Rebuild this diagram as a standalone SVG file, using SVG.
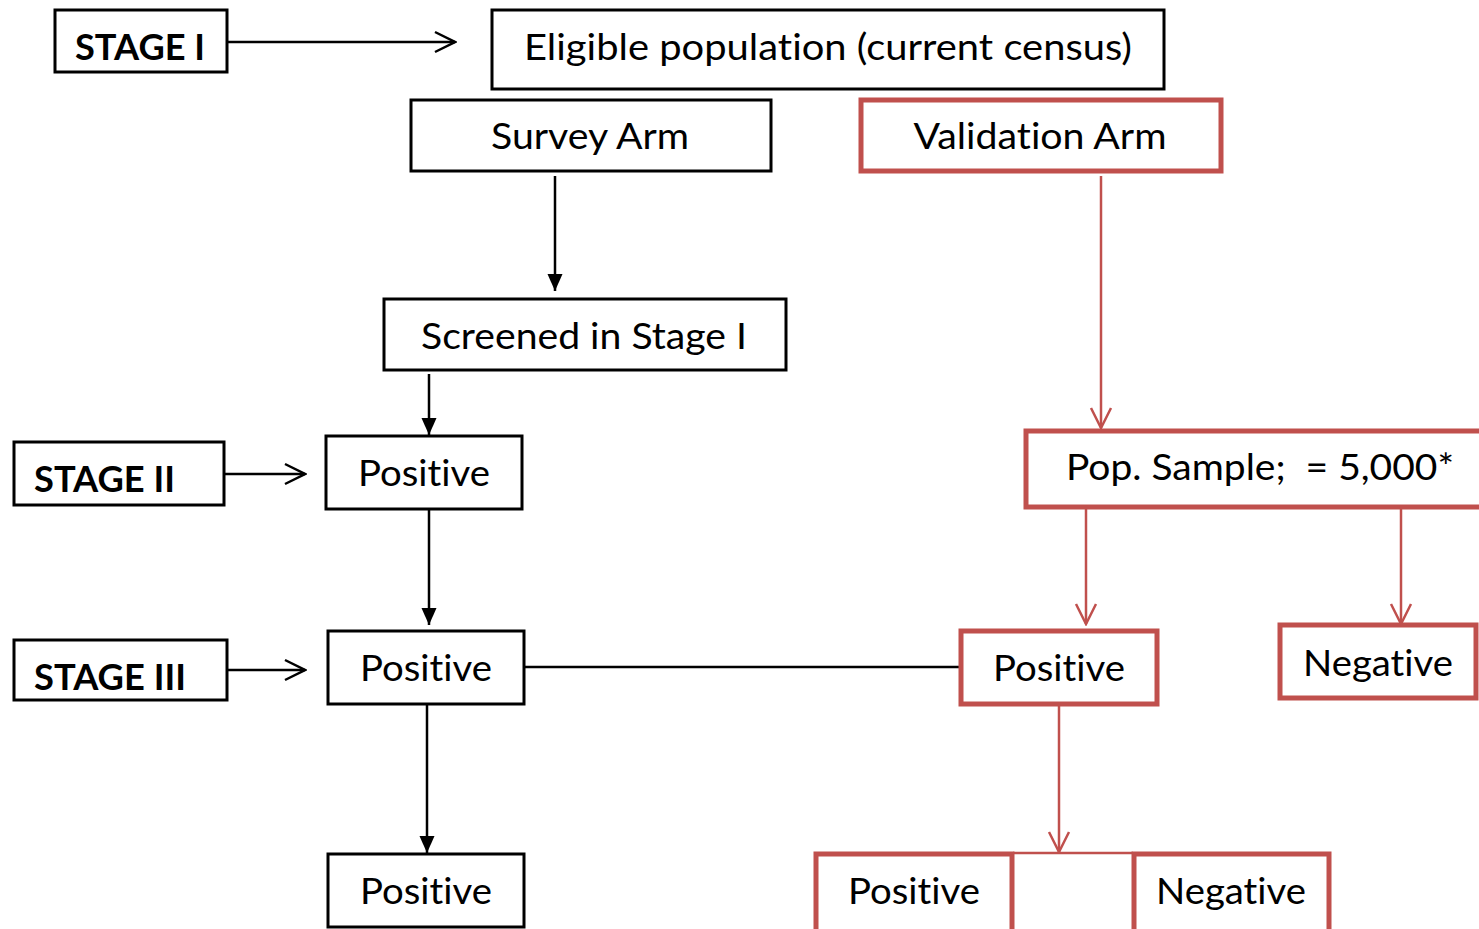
<svg xmlns="http://www.w3.org/2000/svg" width="1479" height="929" viewBox="0 0 1479 929">
<style>
.bk{fill:#fff;stroke:#000;stroke-width:3}
.rd{fill:#fff;stroke:#C0504D;stroke-width:5}
.t{font-family:Lato,"Open Sans","Liberation Sans",sans-serif;font-size:37px;fill:#000;text-anchor:middle;font-variant-ligatures:none}
.b{font-family:Lato,"Open Sans","Liberation Sans",sans-serif;font-size:37px;font-weight:bold;fill:#000;font-variant-ligatures:none}
.lk{stroke:#000;stroke-width:2.5;fill:none}
.lr{stroke:#C0504D;stroke-width:2.5;fill:none}
</style>
<defs>
<marker id="fill" markerUnits="userSpaceOnUse" markerWidth="18" markerHeight="18" viewBox="0 0 18 18" refX="17" refY="9" orient="auto">
<path d="M0,1.5 L17,9 L0,16.5 Z" fill="#000"/>
</marker>
<marker id="openk" markerUnits="userSpaceOnUse" markerWidth="24" markerHeight="24" viewBox="0 0 24 24" refX="22" refY="12" orient="auto">
<path d="M2,2 L22,12 L2,22" fill="none" stroke="#000" stroke-width="2.5"/>
</marker>
<marker id="openr" markerUnits="userSpaceOnUse" markerWidth="24" markerHeight="24" viewBox="0 0 24 24" refX="22" refY="12" orient="auto">
<path d="M2,2 L22,12 L2,22" fill="none" stroke="#C0504D" stroke-width="2.5"/>
</marker>
</defs>
<rect width="1479" height="929" fill="#fff"/>
<g id="connectors">
<line class="lk" x1="227" y1="42" x2="455" y2="42" marker-end="url(#openk)"/>
<line class="lk" x1="555" y1="176" x2="555" y2="291" marker-end="url(#fill)"/>
<line class="lk" x1="429" y1="374" x2="429" y2="435" marker-end="url(#fill)"/>
<line class="lk" x1="224" y1="474" x2="305" y2="474" marker-end="url(#openk)"/>
<line class="lk" x1="429" y1="509" x2="429" y2="625" marker-end="url(#fill)"/>
<line class="lk" x1="227" y1="670" x2="305" y2="670" marker-end="url(#openk)"/>
<line class="lk" x1="524" y1="667" x2="960" y2="667"/>
<line class="lk" x1="427" y1="704" x2="427" y2="853" marker-end="url(#fill)"/>
<line class="lr" x1="1101" y1="176" x2="1101" y2="428" marker-end="url(#openr)"/>
<line class="lr" x1="1086" y1="508" x2="1086" y2="624" marker-end="url(#openr)"/>
<line class="lr" x1="1401" y1="508" x2="1401" y2="624" marker-end="url(#openr)"/>
<line class="lr" x1="1059" y1="705" x2="1059" y2="852" marker-end="url(#openr)"/>
<line class="lr" x1="1013" y1="853" x2="1133" y2="853"/>
</g>
<g id="stage1"><rect class="bk" x="55" y="10" width="172" height="62"/><text class="b" x="75" y="60" textLength="130" lengthAdjust="spacingAndGlyphs">STAGE I</text></g>
<g id="eligible"><rect class="bk" x="492" y="10" width="672" height="79"/><text class="t" x="828" y="60" textLength="608" lengthAdjust="spacingAndGlyphs">Eligible population (current census)</text></g>
<g id="survey"><rect class="bk" x="411" y="100" width="360" height="71"/><text class="t" x="590" y="149" textLength="198" lengthAdjust="spacingAndGlyphs">Survey Arm</text></g>
<g id="validation"><rect class="rd" x="861" y="100" width="360" height="71"/><text class="t" x="1040" y="149" textLength="253" lengthAdjust="spacingAndGlyphs">Validation Arm</text></g>
<g id="screened"><rect class="bk" x="384" y="299" width="402" height="71"/><text class="t" x="584" y="349" textLength="326" lengthAdjust="spacingAndGlyphs">Screened in Stage I</text></g>
<g id="stage2"><rect class="bk" x="14" y="442" width="210" height="63"/><text class="b" x="34" y="492" textLength="141" lengthAdjust="spacingAndGlyphs">STAGE II</text></g>
<g id="pos1"><rect class="bk" x="326" y="436" width="196" height="73"/><text class="t" x="424" y="486" textLength="132" lengthAdjust="spacingAndGlyphs">Positive</text></g>
<g id="stage3"><rect class="bk" x="14" y="640" width="213" height="60"/><text class="b" x="34" y="690" textLength="152" lengthAdjust="spacingAndGlyphs">STAGE III</text></g>
<g id="pos2"><rect class="bk" x="328" y="631" width="196" height="73"/><text class="t" x="426" y="681" textLength="132" lengthAdjust="spacingAndGlyphs">Positive</text></g>
<g id="pos3"><rect class="bk" x="328" y="854" width="196" height="73"/><text class="t" x="426" y="904" textLength="132" lengthAdjust="spacingAndGlyphs">Positive</text></g>
<g id="popsample"><rect class="rd" x="1026" y="431" width="470" height="76"/><text class="t" x="1260" y="480" textLength="388" lengthAdjust="spacingAndGlyphs" xml:space="preserve">Pop. Sample;  = 5,000*</text></g>
<g id="vpos"><rect class="rd" x="961" y="631" width="196" height="73"/><text class="t" x="1059" y="681" textLength="132" lengthAdjust="spacingAndGlyphs">Positive</text></g>
<g id="vneg"><rect class="rd" x="1280" y="625" width="196" height="73"/><text class="t" x="1378" y="676" textLength="150" lengthAdjust="spacingAndGlyphs">Negative</text></g>
<g id="vpos2"><rect class="rd" x="816" y="854" width="196" height="85"/><text class="t" x="914" y="904" textLength="132" lengthAdjust="spacingAndGlyphs">Positive</text></g>
<g id="vneg2"><rect class="rd" x="1134" y="854" width="195" height="85"/><text class="t" x="1231" y="904" textLength="150" lengthAdjust="spacingAndGlyphs">Negative</text></g>
</svg>
